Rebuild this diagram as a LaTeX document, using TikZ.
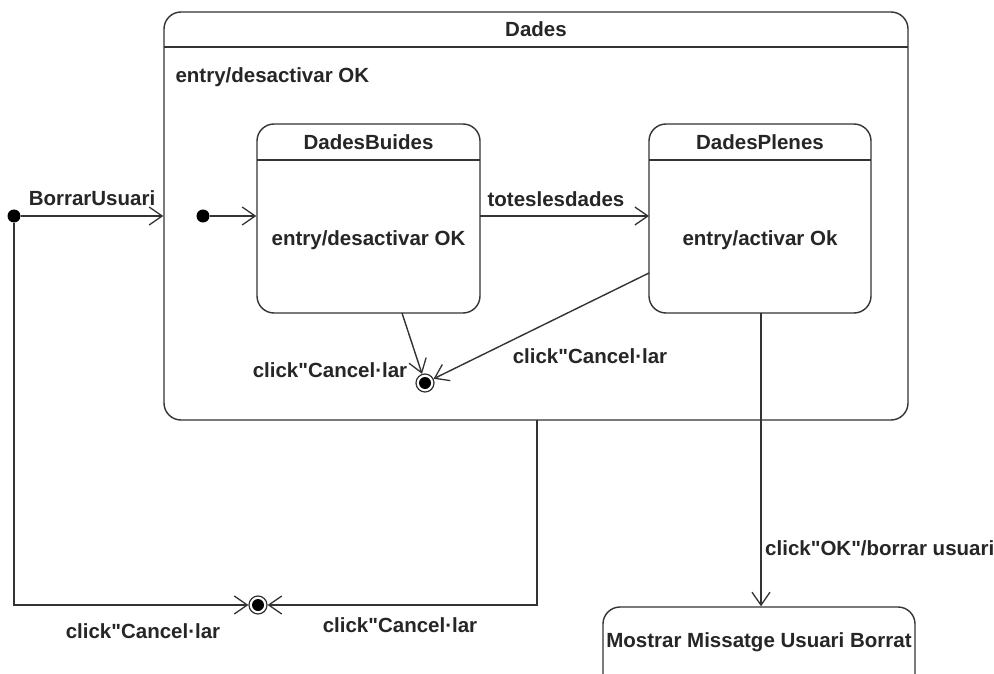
\documentclass[tikz,border=0pt]{standalone}
\usepackage{fontspec}
\setmainfont{Liberation Sans}[Ligatures=TeXOff]
\usetikzlibrary{arrows.meta}
\tikzset{
  every node/.style={font=\fontsize{20.5}{24}\selectfont\bfseries, text=black!85},
  line/.style={draw=black!80, line width=1.4pt},
  tr/.style={line, -{Straight Barb[length=13pt, width=18pt, line width=1.3pt]}},
  state/.style={draw=black!80, line width=1.4pt, rounded corners=17pt},
  initdot/.style={circle, fill=black, inner sep=0pt, minimum size=13pt},
  finalst/.style={circle, draw=black!80, line width=1.2pt, fill=white, inner sep=0pt, minimum size=18pt,
    path picture={\fill[black] (path picture bounding box.center) circle (6pt);}},
  lbl/.style={inner sep=1pt},
}
\begin{document}
\begin{tikzpicture}[x=1pt, y=-1pt]
\useasboundingbox (0,0) rectangle (994,674);
\fill[white] (0,0) rectangle (994,674);

% Composite state Dades
\node[state, minimum width=744pt, minimum height=408pt] (dades) at (536,216) {};
\draw[line] (164,47) coordinate (dh1) -- (908,47) coordinate (dh2);
\node (dadest) at (536,29) {Dades};
\node[anchor=west] (dadese) at (172,77) {entry/desactivar OK};

% DadesBuides
\node[state, minimum width=223pt, minimum height=189pt] (buides) at (368.5,218.5) {};
\draw[line] (257,160) -- (480,160);
\node (buidest) at (368.5,142) {DadesBuides};
\node (buidese) at (368.5,240) {entry/desactivar OK};

% DadesPlenes
\node[state, minimum width=222pt, minimum height=189pt] (plenes) at (760,218.5) {};
\draw[line] (649,160) -- (871,160);
\node (plenest) at (760,142) {DadesPlenes};
\node (plenese) at (760,240) {entry/activar Ok};

% inner initial and final
\node[initdot] (ini2) at (203,216) {};
\node[finalst] (fin2) at (425,383) {};
\draw[tr] (ini2) -- (buides.west |- ini2);
\draw[tr] (480,216) -- (649,216);
\node[lbl] (tl) at (556,199) {toteslesdades};
\coordinate (b1) at (402,313);
\draw[tr] (b1) -- (fin2);
\node[lbl] (l1) at (330,370) {click"Cancel·lar};
\coordinate (p1) at (649,273);
\draw[tr] (p1) -- (fin2);
\node[lbl] (l2) at (590,356) {click"Cancel·lar};

% outer initial
\node[initdot] (ini1) at (14,216) {};
\draw[tr] (ini1) -- (dades.west |- ini1);
\node[lbl] (bl) at (92,198) {BorrarUsuari};

% outer final
\node[finalst] (fin1) at (258,605) {};
\coordinate (c1) at (14,605);
\draw[tr] (ini1) -- (c1) -- (fin1);
\coordinate (d1) at (537,420);
\coordinate (d2) at (537,605);
\draw[tr] (d1) -- (d2) -- (fin1);
\node[lbl] (l3) at (143,631) {click"Cancel·lar};
\node[lbl] (l4) at (400,625) {click"Cancel·lar};

% Mostrar
\begin{scope}
\clip (0,0) rectangle (994,674);
\node[state, minimum width=312pt, minimum height=90pt] (mostrar) at (759,652) {};
\node (mostrart) at (759,642) {Mostrar Missatge Usuari Borrat};
\coordinate (e1) at (761,313);
\draw[tr] (e1) -- (mostrar.north -| e1);
\node[lbl, anchor=west] (l5) at (764,548) {click"OK"/borrar usuari};
\end{scope}
\end{tikzpicture}
\end{document}
